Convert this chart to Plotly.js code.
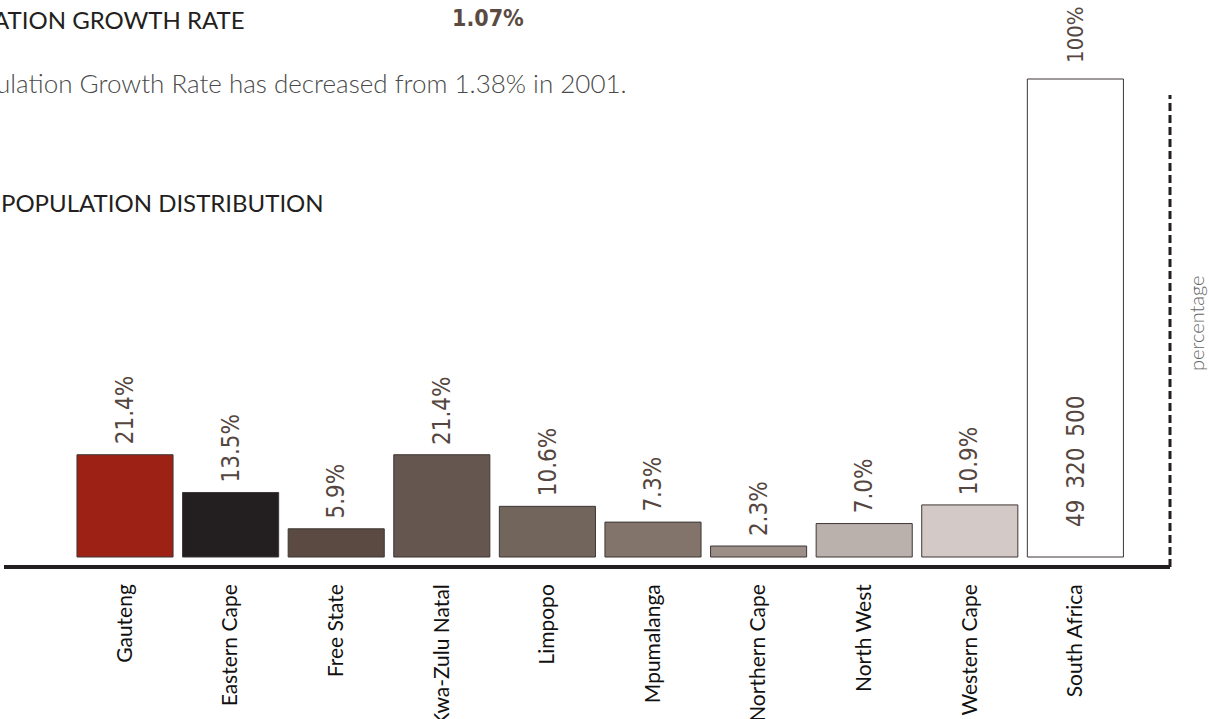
<!DOCTYPE html>
<html>
<head>
<meta charset="utf-8">
<script src="https://cdn.plot.ly/plotly-3.0.1.min.js"></script>
<style>html,body{margin:0;padding:0;background:#fff;}#chart{width:1209px;height:719px;}</style>
</head>
<body>
<div id="chart"></div>
<script>
const provinces = ['Gauteng','Eastern Cape','Free State','Kwa-Zulu Natal','Limpopo','Mpumalanga','Northern Cape','North West','Western Cape','South Africa'];
const shares = [21.4, 13.5, 5.9, 21.4, 10.6, 7.3, 2.3, 7.0, 10.9, 100];
const barColors = ['#9e2116','#231f20','#5a4a42','#65574f','#72655c','#82746b','#9b8f88','#bab1ac','#d3cac7','#ffffff'];
const totalPopulation = 49320500;
const growthRate = '1.07%';
const growthRate2001 = '1.38%';

const W = 1209, H = 719;
const M = {l: 4, r: 39, t: 0, b: 152};
const PW = W - M.l - M.r, PH = H - M.t - M.b;
const px = x => (x - M.l) / PW;
const py = y => 1 - (y - M.t) / PH;

const condensed = '"DejaVu Sans Condensed", "DejaVu Sans", sans-serif';
const labelFont = {family: condensed, size: 24, color: '#55463f'};
const gothic = 'Lato, "Noto Sans", sans-serif';

const fmtPop = n => String(n).replace(/\B(?=(\d{3})+(?!\d))/g, '\u2002');

const annotations = provinces.map((p, i) => ({
  x: p, y: shares[i], xref: 'x', yref: 'y',
  text: shares[i] === 100 ? '100%' : shares[i].toFixed(1) + '%',
  textangle: -90, showarrow: false, yanchor: 'bottom', xanchor: 'center',
  yshift: shares[i] === 100 ? 14 : 8,
  font: shares[i] === 100 ? Object.assign({}, labelFont, {size: 22}) : labelFont
}));
annotations.push({
  x: provinces[provinces.length - 1], y: 0, xref: 'x', yref: 'y',
  text: fmtPop(totalPopulation), textangle: -90, showarrow: false,
  yanchor: 'bottom', xanchor: 'center', yshift: 28, font: labelFont
});
annotations.push(
  {xref: 'paper', yref: 'paper', x: px(247), y: py(19), xanchor: 'right', yanchor: 'middle', showarrow: false,
   text: 'POPULATION GROWTH RATE', font: {family: gothic, size: 24, color: '#231f20'}},
  {xref: 'paper', yref: 'paper', x: px(488), y: py(18), xanchor: 'center', yanchor: 'middle', showarrow: false,
   text: '<b>' + growthRate + '</b>', font: {family: condensed, size: 23, color: '#5b4a42'}},
  {xref: 'paper', yref: 'paper', x: px(629), y: py(83), xanchor: 'right', yanchor: 'middle', showarrow: false,
   text: 'Population Growth Rate has decreased from ' + growthRate2001 + ' in 2001.',
   font: {family: gothic, size: 26, color: '#4a4a4a', weight: 300}},
  {xref: 'paper', yref: 'paper', x: px(-1), y: py(202), xanchor: 'left', yanchor: 'middle', showarrow: false,
   text: 'POPULATION DISTRIBUTION', font: {family: gothic, size: 24, color: '#231f20'}},
  {xref: 'paper', yref: 'paper', x: px(1196), y: py(323), xanchor: 'center', yanchor: 'middle', showarrow: false,
   text: 'percentage', textangle: -90, font: {family: gothic, size: 20, color: '#666666', weight: 300}}
);

const trace = {
  type: 'bar', x: provinces, y: shares, width: 0.91,
  marker: {color: barColors, line: {color: '#3d3735', width: 1}},
  hoverinfo: 'x+y'
};

const layout = {
  width: W, height: H, margin: M,
  paper_bgcolor: '#ffffff', plot_bgcolor: '#ffffff',
  showlegend: false,
  xaxis: {
    type: 'category', range: [-1.146, 9.896], showgrid: false, zeroline: false, showline: false,
    ticks: '', tickangle: -90, ticklabelstandoff: 12,
    tickfont: {family: gothic, size: 21, color: '#111111'}
  },
  yaxis: {range: [-2.09, 116.53], visible: false, showgrid: false, zeroline: false},
  shapes: [
    {type: 'line', xref: 'paper', yref: 'paper', x0: 0, x1: 1, y0: 0, y1: 0, line: {color: '#231f20', width: 4}},
    {type: 'line', xref: 'paper', yref: 'paper', x0: 1, x1: 1, y0: 0, y1: py(95), line: {color: '#231f20', width: 3, dash: '8px,4px'}}
  ],
  annotations: annotations
};

Plotly.newPlot('chart', [trace], layout, {displayModeBar: false, staticPlot: true});
</script>
</body>
</html>
